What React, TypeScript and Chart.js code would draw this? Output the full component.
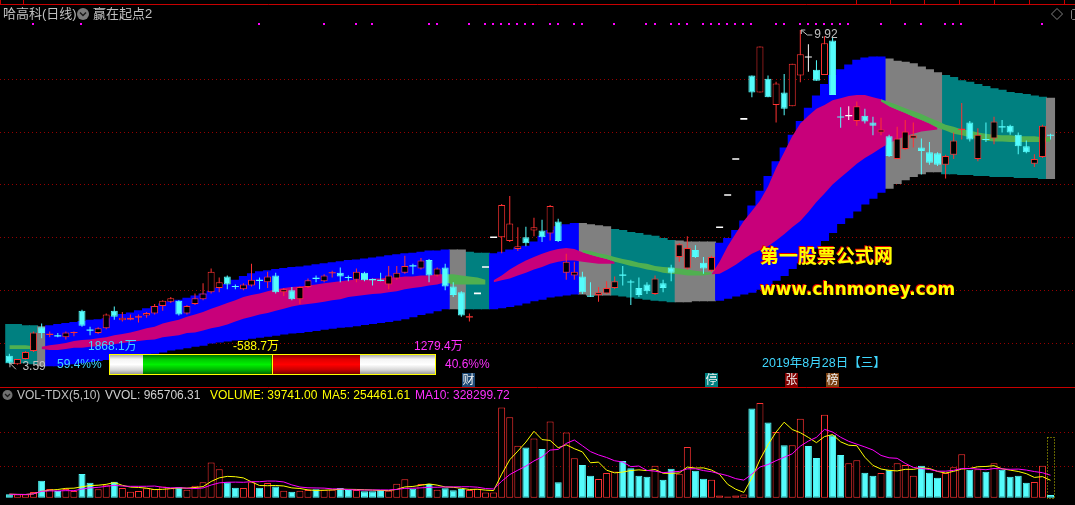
import React, { useEffect, useRef } from "react";
import { Chart, registerables } from "chart.js";

Chart.register(...registerables);

// ---------------- data ----------------
const opens = [
  3.76, 3.60, 3.70, 3.85, 4.30, 4.16, 4.14, 4.11, 4.19, 4.61,
  4.25, 4.19, 4.28, 4.61, 4.43, 4.44, 4.49, 4.52, 4.56, 4.70,
  4.78, 4.80, 4.56, 4.74, 4.83, 4.96, 5.04, 5.26, 5.08, 5.02,
  5.09, 5.19, 5.15, 5.28, 4.96, 5.00, 4.83, 5.06, 5.23, 5.17,
  5.32, 5.33, 5.25, 5.20, 5.33, 5.21, 5.19, 5.11, 5.22, 5.33,
  5.47, 5.41, 5.57, 5.28, 5.43, 5.07, 4.96, 4.49, 4.94, 5.44,
  6.00, 6.00, 5.93, 5.78, 6.00, 6.13, 6.13, 6.07, 6.30, 5.33,
  5.28, 5.26, 4.90, 4.91, 4.94, 5.04, 5.29, 5.16, 5.04, 5.11,
  4.93, 5.13, 5.43, 5.63, 5.41, 5.76, 5.52, 5.37, 6.19, 6.80,
  7.48, 8.24, 9.06, 8.74, 9.00, 8.50, 8.74, 8.48, 9.06, 9.41,
  9.17, 9.07, 9.72, 8.28, 8.30, 8.20, 8.30, 8.17, 7.98, 7.91,
  7.48, 7.67, 7.87, 7.70, 7.61, 7.59, 7.37, 7.56, 8.03, 8.17,
  7.48, 7.86, 7.87, 8.10, 8.11, 7.94, 7.72, 7.39, 7.52, 7.94,
];
const highs = [
  3.80, 3.70, 3.85, 4.22, 4.37, 4.22, 4.19, 4.22, 4.22, 4.63,
  4.31, 4.30, 4.56, 4.69, 4.59, 4.54, 4.54, 4.59, 4.74, 4.81,
  4.87, 4.81, 4.72, 4.94, 5.13, 5.41, 5.24, 5.28, 5.11, 5.13,
  5.50, 5.24, 5.35, 5.33, 5.04, 5.06, 5.07, 5.22, 5.28, 5.30,
  5.37, 5.43, 5.28, 5.41, 5.35, 5.22, 5.33, 5.46, 5.46, 5.65,
  5.50, 5.61, 5.59, 5.43, 5.50, 5.15, 4.98, 4.56, 4.94, 5.44,
  6.00, 6.63, 6.78, 6.19, 6.20, 6.37, 6.33, 6.61, 6.35, 5.69,
  5.54, 5.35, 5.15, 5.06, 5.17, 5.26, 5.46, 5.20, 5.24, 5.15,
  5.28, 5.20, 5.48, 5.89, 6.02, 5.85, 5.63, 5.65, 6.19, 6.80,
  7.48, 8.24, 9.06, 9.61, 9.06, 8.94, 9.09, 9.28, 9.92, 9.65,
  9.35, 9.80, 9.78, 8.46, 8.48, 8.57, 8.43, 8.28, 8.26, 7.94,
  8.09, 8.22, 8.17, 7.87, 7.80, 7.61, 7.56, 7.98, 8.54, 8.20,
  8.06, 8.17, 8.28, 8.22, 8.13, 7.98, 7.83, 7.57, 8.13, 7.96,
];
const lows = [
  3.61, 3.59, 3.69, 3.83, 4.09, 4.11, 4.11, 4.07, 4.13, 4.31,
  4.15, 4.17, 4.26, 4.44, 4.41, 4.43, 4.39, 4.48, 4.54, 4.61,
  4.76, 4.52, 4.54, 4.72, 4.81, 4.94, 4.96, 5.02, 5.02, 5.00,
  5.07, 5.02, 5.04, 4.94, 4.89, 4.81, 4.74, 5.04, 5.15, 5.15,
  5.24, 5.15, 5.17, 5.15, 5.17, 5.09, 5.17, 5.02, 5.20, 5.31,
  5.30, 5.39, 5.15, 5.26, 5.00, 4.87, 4.50, 4.41, 4.94, 5.44,
  6.00, 5.70, 5.91, 5.74, 5.83, 6.02, 5.91, 5.94, 5.91, 5.20,
  5.20, 4.93, 4.87, 4.78, 4.93, 5.02, 5.09, 4.72, 4.87, 4.93,
  4.91, 4.96, 5.17, 5.54, 5.39, 5.61, 5.31, 5.35, 6.19, 6.80,
  7.48, 8.24, 8.65, 8.74, 8.65, 8.17, 8.31, 8.48, 8.93, 9.13,
  8.96, 9.07, 8.69, 8.07, 8.22, 8.11, 8.15, 7.93, 7.93, 7.52,
  7.48, 7.65, 7.70, 7.19, 7.37, 7.35, 7.11, 7.48, 7.85, 7.81,
  7.44, 7.80, 7.76, 7.98, 7.94, 7.57, 7.59, 7.33, 7.50, 7.85,
];
const closes = [
  3.63, 3.70, 3.83, 4.20, 4.19, 4.17, 4.13, 4.20, 4.21, 4.33,
  4.24, 4.28, 4.54, 4.50, 4.48, 4.48, 4.50, 4.57, 4.70, 4.80,
  4.85, 4.54, 4.70, 4.85, 4.94, 5.35, 5.15, 5.11, 5.06, 5.11,
  5.20, 5.18, 5.26, 4.96, 5.02, 4.83, 5.06, 5.19, 5.22, 5.28,
  5.34, 5.26, 5.23, 5.35, 5.19, 5.19, 5.18, 5.28, 5.33, 5.46,
  5.45, 5.56, 5.28, 5.41, 5.07, 4.91, 4.52, 4.50, 4.94, 5.44,
  6.00, 6.61, 6.26, 5.83, 5.89, 6.19, 6.00, 6.59, 5.93, 5.54,
  5.35, 4.96, 4.88, 4.96, 5.04, 5.17, 5.28, 5.15, 4.91, 4.98,
  5.22, 5.04, 5.33, 5.87, 5.80, 5.63, 5.41, 5.63, 6.19, 6.80,
  7.48, 8.24, 8.74, 9.61, 8.65, 8.91, 8.43, 9.28, 9.46, 9.41,
  8.96, 9.67, 8.69, 8.27, 8.30, 8.48, 8.19, 8.11, 8.04, 7.54,
  7.87, 8.00, 7.93, 7.63, 7.41, 7.37, 7.54, 7.83, 8.05, 7.85,
  7.94, 7.84, 8.19, 8.08, 7.98, 7.72, 7.61, 7.48, 8.11, 7.92,
];
// volume, in 10k shares (万)
const volumes = [
  5.2, 4.6, 4.6, 8.4, 24.3, 12.6, 9.8, 12.6, 9.8, 34.1,
  21.5, 12.2, 18.8, 23.0, 14.0, 8.8, 9.8, 13.6, 12.6, 16.3,
  13.6, 15.0, 11.7, 17.3, 22.4, 50.6, 40.8, 22.4, 14.6, 14.0,
  22.4, 14.6, 21.1, 16.3, 10.3, 8.8, 10.3, 11.3, 12.2, 11.7,
  11.7, 14.0, 11.3, 11.3, 9.4, 9.4, 11.3, 10.3, 20.1, 26.7,
  13.1, 19.7, 19.7, 11.7, 13.6, 10.7, 12.6, 11.3, 13.1, 7.5,
  7.5, 129.2, 115.2, 74.5, 72.1, 84.7, 69.8, 109.3, 22.2, 93.3,
  56.6, 47.1, 31.6, 26.8, 35.4, 37.7, 52.8, 42.4, 31.6, 30.2,
  45.7, 25.8, 41.5, 34.4, 72.5, 38.6, 27.2, 25.8, 3.3, 1.9,
  3.3, 4.8, 127.7, 135.7, 107.8, 94.2, 75.3, 75.3, 113.0, 74.0,
  57.0, 118.7, 89.5, 61.2, 49.5, 53.7, 35.8, 31.6, 35.4, 40.0,
  49.5, 47.1, 31.6, 45.7, 35.8, 28.7, 35.4, 43.8, 62.2, 40.0,
  40.9, 37.3, 49.5, 40.0, 30.2, 31.6, 21.6, 22.6, 45.7, 3.97,
];
const projectedVolume = 87.5;

// outer channel (stepped)
const bandTop = [
  4.35, 4.35, 4.33, 4.33, 4.31, 4.33, 4.35, 4.37, 4.39, 4.41,
  4.43, 4.44, 4.46, 4.50, 4.54, 4.57, 4.61, 4.65, 4.69, 4.74,
  4.78, 4.81, 4.85, 4.89, 4.93, 4.98, 5.04, 5.11, 5.19, 5.26,
  5.31, 5.35, 5.37, 5.39, 5.41, 5.43, 5.44, 5.46, 5.48, 5.50,
  5.52, 5.54, 5.56, 5.57, 5.59, 5.61, 5.63, 5.65, 5.67, 5.69,
  5.70, 5.72, 5.74, 5.74, 5.76, 5.76, 5.76, 5.72, 5.70, 5.70,
  5.69, 5.72, 5.76, 5.80, 5.83, 5.91, 6.02, 6.13, 6.20, 6.24,
  6.26, 6.26, 6.24, 6.22, 6.20, 6.15, 6.13, 6.09, 6.07, 6.04,
  6.02, 5.98, 5.94, 5.93, 5.91, 5.91, 5.91, 5.91, 5.89, 5.98,
  6.13, 6.31, 6.59, 6.87, 7.15, 7.43, 7.69, 7.93, 8.19, 8.44,
  8.67, 8.89, 9.06, 9.17, 9.26, 9.35, 9.39, 9.41, 9.41, 9.37,
  9.33, 9.31, 9.28, 9.22, 9.17, 9.11, 9.06, 9.02, 8.96, 8.93,
  8.89, 8.85, 8.81, 8.78, 8.74, 8.72, 8.70, 8.67, 8.65, 8.63,
];
const bandBot = [
  3.63, 3.63, 3.63, 3.61, 3.57, 3.57, 3.57, 3.59, 3.61, 3.63,
  3.65, 3.67, 3.69, 3.70, 3.72, 3.76, 3.78, 3.80, 3.81, 3.83,
  3.87, 3.89, 3.91, 3.94, 3.96, 4.00, 4.02, 4.04, 4.06, 4.07,
  4.09, 4.11, 4.13, 4.15, 4.17, 4.19, 4.20, 4.22, 4.24, 4.26,
  4.28, 4.30, 4.31, 4.33, 4.35, 4.37, 4.39, 4.41, 4.43, 4.46,
  4.50, 4.54, 4.57, 4.61, 4.65, 4.65, 4.65, 4.65, 4.65, 4.65,
  4.65, 4.67, 4.69, 4.72, 4.76, 4.80, 4.83, 4.87, 4.89, 4.91,
  4.93, 4.93, 4.91, 4.91, 4.91, 4.91, 4.89, 4.87, 4.85, 4.83,
  4.81, 4.80, 4.78, 4.78, 4.78, 4.80, 4.80, 4.80, 4.81, 4.85,
  4.89, 4.93, 4.96, 5.02, 5.09, 5.19, 5.28, 5.41, 5.52, 5.63,
  5.80, 5.94, 6.09, 6.26, 6.37, 6.50, 6.63, 6.74, 6.85, 6.93,
  7.02, 7.09, 7.15, 7.20, 7.24, 7.24, 7.20, 7.20, 7.19, 7.19,
  7.17, 7.17, 7.15, 7.15, 7.15, 7.13, 7.13, 7.13, 7.11, 7.11,
];
const grayRanges = [[4, 4], [55, 56], [71, 74], [83, 87], [109, 115], [129, 129]];
const tealRanges = [[0, 3], [57, 59], [75, 82], [116, 128]];

// inner ribbon segments
const magentaTop1 = [3.93, 3.96, 3.98, 4.00, 4.04, 4.06, 4.07, 4.09, 4.11, 4.15, 4.17, 4.20, 4.24, 4.28, 4.31, 4.37, 4.41, 4.44, 4.50, 4.54, 4.59, 4.65, 4.70, 4.76, 4.81, 4.87, 4.91, 4.94, 4.98, 5.02, 5.04, 5.06, 5.07, 5.09, 5.11, 5.13, 5.15, 5.17, 5.19, 5.20, 5.20, 5.22, 5.22, 5.24, 5.24, 5.26, 5.26, 5.28, 5.28, 5.30, 5.30];
const magentaBot1 = [3.89, 3.87, 3.87, 3.89, 3.91, 3.91, 3.93, 3.94, 3.96, 3.98, 4.00, 4.02, 4.04, 4.06, 4.07, 4.11, 4.13, 4.15, 4.19, 4.20, 4.24, 4.28, 4.31, 4.35, 4.41, 4.46, 4.50, 4.54, 4.57, 4.61, 4.65, 4.69, 4.72, 4.74, 4.76, 4.78, 4.81, 4.83, 4.87, 4.89, 4.91, 4.93, 4.94, 4.96, 4.98, 5.02, 5.04, 5.06, 5.09, 5.11, 5.15];
const magentaTop2 = [5.19, 5.28, 5.39, 5.48, 5.56, 5.63, 5.69, 5.74, 5.78, 5.80, 5.78, 5.72, 5.67, 5.63, 5.59, 5.54];
const magentaBot2 = [5.15, 5.19, 5.22, 5.28, 5.33, 5.39, 5.44, 5.50, 5.54, 5.56, 5.56, 5.54, 5.52, 5.50, 5.50, 5.50];
const magentaTop3 = [5.30, 5.54, 5.83, 6.07, 6.31, 6.50, 6.69, 6.96, 7.31, 7.61, 7.91, 8.15, 8.30, 8.43, 8.50, 8.59, 8.63, 8.67, 8.69, 8.69, 8.65, 8.61, 8.48, 8.41, 8.35, 8.28, 8.22, 8.15, 8.07];
const magentaBot3 = [5.30, 5.31, 5.39, 5.48, 5.59, 5.69, 5.76, 5.83, 5.94, 6.06, 6.19, 6.31, 6.48, 6.67, 6.83, 7.00, 7.13, 7.26, 7.39, 7.50, 7.59, 7.69, 7.78, 7.85, 7.91, 7.96, 8.00, 8.02, 8.04];
const magentaStarts = [4, 60, 87];

const greenTop1 = [3.96, 3.96, 3.96, 3.94];
const greenBot1 = [3.89, 3.89, 3.89, 3.89];
const greenTop2 = [5.30, 5.30, 5.28, 5.26, 5.24, 5.20];
const greenBot2 = [5.15, 5.11, 5.11, 5.11, 5.11, 5.11];
const greenTop3 = [5.76, 5.74, 5.70, 5.67, 5.63, 5.59, 5.56, 5.52, 5.50, 5.46, 5.44, 5.43, 5.41, 5.39, 5.37, 5.35, 5.33];
const greenBot3 = [5.72, 5.67, 5.63, 5.59, 5.54, 5.50, 5.46, 5.43, 5.39, 5.37, 5.33, 5.31, 5.30, 5.28, 5.28, 5.28, 5.30];
const greenTop4 = [8.61, 8.56, 8.50, 8.44, 8.39, 8.33, 8.26, 8.20, 8.13, 8.09, 8.04, 8.02, 7.98, 7.96, 7.94, 7.93, 7.93, 7.91, 7.91, 7.91, 7.89, 7.89];
const greenBot4 = [8.57, 8.48, 8.41, 8.35, 8.28, 8.22, 8.15, 8.07, 8.02, 7.96, 7.93, 7.89, 7.85, 7.83, 7.81, 7.81, 7.80, 7.80, 7.80, 7.80, 7.80, 7.81];
const greenStarts = [0, 54, 71, 108];

const signalIdx = [3, 9, 31, 39, 43, 45, 52, 53, 57, 59, 60, 61, 62, 63, 64, 65, 67, 68, 70, 71, 75, 79, 80, 82, 83, 84, 86, 87, 88, 89, 90, 91, 92, 95, 96, 98, 99, 100, 101, 102, 103, 104, 108, 111, 113, 116, 117, 118, 128];
const eventIdx = [57, 87, 97, 102];
const eventText = ["财", "停", "张", "榜"];

const priceGrid = [4, 5, 6, 7, 8, 9];
const volGrid = [46.2, 93.8];

const flowBuy = 1868.1;
const flowSell = 1279.4;
const flowNet = -588.7;
const buyPct = 59.4;
const sellPct = 40.6;

const stockTitle = "哈高科(日线)";
const indicatorName = "赢在起点2";
const dateLabel = "2019年8月28日【三】";
const volHeader = ["VOL-TDX(5,10)", "VVOL: 965706.31", "VOLUME: 39741.00", "MA5: 254461.61", "MA10: 328299.72"];

// ---------------- style ----------------
const W = 1075;
const H = 505;
const RED = "#FF3232";
const CYAN = "#54FCFC";
const WHITE = "#FFFFFF";

const FONT = (px: number, weight = "") =>
  `${weight} ${px}px "Liberation Sans", "Noto Sans CJK SC", sans-serif`;

function movingAvg(arr: number[], n: number) {
  return arr.map((_, i) => {
    const s = Math.max(0, i - n + 1);
    let sum = 0;
    for (let k = s; k <= i; k++) sum += arr[k];
    return sum / (i - s + 1);
  });
}

const tdxPlugin = {
  id: "tdx",
  beforeDraw(chart: any) {
    const ctx = chart.ctx;
    ctx.save();
    ctx.fillStyle = "#000";
    ctx.fillRect(0, 0, chart.width, chart.height);
    ctx.restore();
  },
  beforeDatasetsDraw(chart: any) {
    const { ctx, scales } = chart;
    ctx.save();
    ctx.lineWidth = 1;
    ctx.strokeStyle = "#960000";
    ctx.setLineDash([1, 3]);
    priceGrid.forEach((p) => {
      const y = Math.round(scales.y.getPixelForValue(p)) + 0.5;
      ctx.beginPath();
      ctx.moveTo(0, y);
      ctx.lineTo(W, y);
      ctx.stroke();
    });
    volGrid.forEach((v) => {
      const y = Math.round(scales.yv.getPixelForValue(v)) + 0.5;
      ctx.beginPath();
      ctx.moveTo(0, y);
      ctx.lineTo(W, y);
      ctx.stroke();
    });
    ctx.setLineDash([]);
    ctx.strokeStyle = "#C80000";
    ctx.beginPath();
    ctx.moveTo(0, 4.5);
    ctx.lineTo(W, 4.5);
    [0.5, 23.5, 856.5, 890.5, 924.5, 959.5, 994.5, 1029.5, 1064.5].forEach((x) => {
      ctx.moveTo(x, 0);
      ctx.lineTo(x, 4);
    });
    ctx.moveTo(0, 387.5);
    ctx.lineTo(W, 387.5);
    ctx.stroke();
    ctx.restore();
  },
  afterDatasetsDraw(chart: any) {
    const { ctx, scales } = chart;
    const xs = scales.x;
    const ys = scales.y;
    const yv = scales.yv;
    ctx.save();
    ctx.textBaseline = "middle";
    ctx.textAlign = "left";

    // title row
    ctx.font = FONT(13);
    ctx.fillStyle = "#C0C0C0";
    ctx.fillText(stockTitle, 3, 14);
    ctx.fillStyle = "#7A7A7A";
    ctx.beginPath();
    ctx.arc(83, 14, 6, 0, Math.PI * 2);
    ctx.fill();
    ctx.strokeStyle = "#1A1A1A";
    ctx.lineWidth = 1.5;
    ctx.beginPath();
    ctx.moveTo(80, 12.5);
    ctx.lineTo(83, 15.5);
    ctx.lineTo(86, 12.5);
    ctx.stroke();
    ctx.fillStyle = "#C0C0C0";
    ctx.font = FONT(13);
    ctx.fillText(indicatorName, 93, 14);

    // top-right icons
    ctx.strokeStyle = "#808080";
    ctx.lineWidth = 1;
    ctx.beginPath();
    ctx.moveTo(1057, 8.5);
    ctx.lineTo(1062.5, 14);
    ctx.lineTo(1057, 19.5);
    ctx.lineTo(1051.5, 14);
    ctx.closePath();
    ctx.stroke();
    ctx.beginPath();
    ctx.moveTo(1078, 9.5);
    ctx.lineTo(1072.5, 9.5);
    ctx.lineTo(1071.5, 10.5);
    ctx.lineTo(1071.5, 18.5);
    ctx.lineTo(1072.5, 19.5);
    ctx.lineTo(1078, 19.5);
    ctx.stroke();

    // signal dots
    ctx.fillStyle = "#FF00FF";
    signalIdx.forEach((i) => {
      const x = Math.floor(xs.getPixelForValue(i) - 1);
      ctx.fillRect(x, 23, 2, 2);
    });

    // low / high labels
    ctx.strokeStyle = "#C0C0C0";
    ctx.fillStyle = "#C0C0C0";
    ctx.lineWidth = 1;
    let lowI = 0;
    let highI = 0;
    lows.forEach((v, i) => { if (v < lows[lowI]) lowI = i; });
    highs.forEach((v, i) => { if (v > highs[highI]) highI = i; });
    {
      const ax = xs.getPixelForValue(lowI);
      const ay = ys.getPixelForValue(lows[lowI]);
      const tx = ax - 7.5, ty = ay - 1.5;
      ctx.beginPath();
      ctx.moveTo(tx, ty);
      ctx.lineTo(ax - 1.5, ay + 4.5);
      ctx.moveTo(tx, ty);
      ctx.lineTo(tx, ty + 4);
      ctx.moveTo(tx, ty);
      ctx.lineTo(tx + 4, ty);
      ctx.stroke();
      ctx.font = FONT(12);
      ctx.fillText(lows[lowI].toFixed(2), ax + 5, ay + 1.5);
    }
    {
      const ax = xs.getPixelForValue(highI);
      const ay = ys.getPixelForValue(highs[highI]);
      const tx = ax + 1, ty = ay;
      ctx.beginPath();
      ctx.moveTo(tx, ty);
      ctx.lineTo(ax + 7, ay + 5);
      ctx.lineTo(ax + 12, ay + 5);
      ctx.moveTo(tx, ty);
      ctx.lineTo(tx, ty + 4);
      ctx.moveTo(tx, ty);
      ctx.lineTo(tx + 4, ty);
      ctx.stroke();
      ctx.font = FONT(12);
      ctx.fillText(highs[highI].toFixed(2), ax + 14, ay + 5);
    }

    // capital-flow bar
    const bx0 = 109, bx1 = 436, by0 = 354, by1 = 375;
    const leftW = 34, rightW = 76;
    const mid = bx1 - bx0 - leftW - rightW;
    const gW = (mid * flowBuy) / (flowBuy + flowSell);
    const gx0 = bx0 + leftW;
    const rx0 = gx0 + gW;
    const rx1 = bx1 - rightW;
    const grad = (stops: string[]) => {
      const g = ctx.createLinearGradient(0, by0, 0, by1);
      stops.forEach((c, k) => g.addColorStop(k / (stops.length - 1), c));
      return g;
    };
    const whiteG = grad(["#9A9A9A", "#F4F4F4", "#FFFFFF", "#D8D8D8", "#8C8C8C"]);
    ctx.fillStyle = whiteG;
    ctx.fillRect(bx0, by0, leftW, by1 - by0);
    ctx.fillRect(rx1, by0, bx1 - rx1, by1 - by0);
    ctx.fillStyle = grad(["#005A00", "#00C800", "#00F000", "#00B400", "#005000"]);
    ctx.fillRect(gx0, by0, gW, by1 - by0);
    ctx.fillStyle = grad(["#780000", "#E00000", "#FF0000", "#C80000", "#640000"]);
    ctx.fillRect(rx0, by0, rx1 - rx0, by1 - by0);
    ctx.strokeStyle = "#FFFF00";
    ctx.lineWidth = 1;
    ctx.strokeRect(bx0 + 0.5, by0 + 0.5, bx1 - bx0 - 1, by1 - by0 - 1);
    ctx.beginPath();
    ctx.moveTo(Math.round(rx0) + 0.5, by0);
    ctx.lineTo(Math.round(rx0) + 0.5, by1);
    ctx.stroke();

    ctx.font = FONT(12);
    ctx.textAlign = "left";
    ctx.fillStyle = "#40D8FF";
    ctx.fillText(`${flowBuy.toFixed(1)}万`, 88, 347);
    ctx.fillText(`${buyPct.toFixed(1)}%%`, 57, 365);
    ctx.fillStyle = "#FFFF00";
    ctx.fillText(`${flowNet.toFixed(1)}万`, 233, 347);
    ctx.fillStyle = "#FF30FF";
    ctx.fillText(`${flowSell.toFixed(1)}万`, 414, 347);
    ctx.fillText(`${sellPct.toFixed(1)}%%`, 445, 365);

    // date
    ctx.fillStyle = "#40D8FF";
    ctx.font = FONT(12.5);
    ctx.fillText(dateLabel, 762, 364);

    // event labels
    const evBg = ["#1E4A76", "#008080", "#800000", "#7A4010"];
    ctx.font = FONT(12);
    ctx.textAlign = "center";
    eventIdx.forEach((i, k) => {
      const x = Math.round(xs.getPixelForValue(i));
      ctx.fillStyle = evBg[k];
      ctx.fillRect(x - 7, 373, 13, 14);
      ctx.fillStyle = "#F0F0F0";
      ctx.fillText(eventText[k], x - 0.5, 380.5);
    });
    ctx.textAlign = "left";

    // volume header
    ctx.fillStyle = "#707070";
    ctx.beginPath();
    ctx.arc(7.5, 395, 5, 0, Math.PI * 2);
    ctx.fill();
    ctx.strokeStyle = "#1A1A1A";
    ctx.lineWidth = 1.3;
    ctx.beginPath();
    ctx.moveTo(5, 394);
    ctx.lineTo(7.5, 396.5);
    ctx.lineTo(10, 394);
    ctx.stroke();
    ctx.font = FONT(12);
    const hx = [17, 105, 210, 322, 415];
    const hc = ["#C0C0C0", "#D0D0D0", "#FFFF00", "#FFFF00", "#FF30FF"];
    volHeader.forEach((t, k) => {
      ctx.fillStyle = hc[k];
      ctx.fillText(t, hx[k], 395.5);
    });

    // projected volume box
    {
      const last = volumes.length - 1;
      const x = Math.round(xs.getPixelForValue(last));
      const yt = Math.round(yv.getPixelForValue(projectedVolume)) + 0.5;
      const yb = Math.round(yv.getPixelForValue(0)) + 0.5;
      ctx.strokeStyle = "#C8C800";
      ctx.lineWidth = 1;
      ctx.setLineDash([1, 2]);
      ctx.strokeRect(x - 3.5, yt, 7, yb - yt);
      ctx.setLineDash([]);
    }

    // watermark
    ctx.textBaseline = "middle";
    ctx.font = 'bold 19px "Noto Sans CJK SC", sans-serif';
    ctx.fillStyle = "#E00000";
    ctx.fillText("第一股票公式网", 759, 255);
    ctx.fillStyle = "#FFFF00";
    ctx.fillText("第一股票公式网", 760, 256);
    ctx.textBaseline = "alphabetic";
    ctx.font = 'bold 17px "DejaVu Sans", sans-serif';
    ctx.fillStyle = "#E00000";
    ctx.fillText("www.chnmoney.com", 759, 294);
    ctx.fillStyle = "#FFFF00";
    ctx.fillText("www.chnmoney.com", 760, 295);

    ctx.restore();
  },
};

export default function App() {
  const ref = useRef<HTMLCanvasElement | null>(null);

  useEffect(() => {
    document.body.style.margin = "0";
    document.body.style.background = "#000";
    const canvas = ref.current;
    if (!canvas) return;
    const n = closes.length;
    const idx = closes.map((_, i) => i);

    const regime: string[] = new Array(n).fill("blue");
    grayRanges.forEach(([a, b]) => { for (let i = a; i <= b; i++) regime[i] = "gray"; });
    tealRanges.forEach(([a, b]) => { for (let i = a; i <= b; i++) regime[i] = "teal"; });

    const bandSet = (kind: string, color: string) => ({
      type: "bar",
      yAxisID: "y",
      order: 100,
      grouped: false,
      data: idx.filter((i) => regime[i] === kind).map((i) => ({ x: i, y: [bandBot[i], bandTop[i]] })),
      backgroundColor: color,
      borderWidth: 0,
      barPercentage: 1,
      categoryPercentage: 1,
      inflateAmount: 0.5,
    });

    const areaPair = (start: number, top: number[], bot: number[], color: string, order: number) => [
      {
        type: "line",
        yAxisID: "y",
        order,
        data: top.map((v, k) => ({ x: start + k, y: v })),
        borderWidth: 0,
        borderColor: "rgba(0,0,0,0)",
        pointRadius: 0,
        fill: false,
      },
      {
        type: "line",
        yAxisID: "y",
        order,
        data: bot.map((v, k) => ({ x: start + k, y: v })),
        borderWidth: 0,
        borderColor: "rgba(0,0,0,0)",
        pointRadius: 0,
        fill: "-1",
        backgroundColor: color,
      },
    ];

    const colorOf = (i: number) => (closes[i] > opens[i] ? RED : closes[i] < opens[i] ? CYAN : WHITE);
    const isBody = (i: number) => Math.abs(closes[i] - opens[i]) >= 0.025;
    const volUp = (i: number) =>
      closes[i] > opens[i] || (closes[i] === opens[i] && (i === 0 || closes[i] >= closes[i - 1]));

    const wickIdx = idx.filter((i) => highs[i] > lows[i]);
    const bodyIdx = idx.filter((i) => isBody(i));
    const markIdx = idx.filter((i) => !isBody(i));

    const magSegs = [[magentaTop1, magentaBot1], [magentaTop2, magentaBot2], [magentaTop3, magentaBot3]];
    const greenSegs = [[greenTop1, greenBot1], [greenTop2, greenBot2], [greenTop3, greenBot3], [greenTop4, greenBot4]];

    const datasets: any[] = [
      bandSet("blue", "#0000FF"),
      bandSet("gray", "#808080"),
      bandSet("teal", "#008080"),
    ];
    magSegs.forEach(([t, b], k) => datasets.push(...areaPair(magentaStarts[k], t, b, "#C8007A", 90)));
    greenSegs.forEach(([t, b], k) => datasets.push(...areaPair(greenStarts[k], t, b, "#50B050", 89)));

    datasets.push({
      type: "bar",
      yAxisID: "yv",
      order: 70,
      grouped: false,
      data: idx.map((i) => ({ x: i, y: volumes[i] })),
      backgroundColor: idx.map((i) => (volUp(i) ? "#000000" : CYAN)),
      borderColor: idx.map((i) => (volUp(i) ? RED : CYAN)),
      borderWidth: 1,
      borderSkipped: false,
      barThickness: 7,
      inflateAmount: 0,
    });
    datasets.push({
      type: "line",
      yAxisID: "yv",
      order: 60,
      data: movingAvg(volumes, 5).map((v, i) => ({ x: i, y: v })),
      borderColor: "#FFFF00",
      borderWidth: 1,
      pointRadius: 0,
      fill: false,
    });
    datasets.push({
      type: "line",
      yAxisID: "yv",
      order: 59,
      data: movingAvg(volumes, 10).map((v, i) => ({ x: i, y: v })),
      borderColor: "#FF00FF",
      borderWidth: 1,
      pointRadius: 0,
      fill: false,
    });
    datasets.push({
      type: "bar",
      yAxisID: "y",
      order: 50,
      grouped: false,
      data: wickIdx.map((i) => ({ x: i, y: [lows[i], highs[i]] })),
      backgroundColor: wickIdx.map(colorOf),
      borderWidth: 0,
      barThickness: 1,
      inflateAmount: 0,
    });
    datasets.push({
      type: "bar",
      yAxisID: "y",
      order: 40,
      grouped: false,
      data: bodyIdx.map((i) => ({ x: i, y: [opens[i], closes[i]] })),
      backgroundColor: bodyIdx.map((i) => (closes[i] > opens[i] ? "#000000" : CYAN)),
      borderColor: bodyIdx.map(colorOf),
      borderWidth: 1,
      borderSkipped: false,
      barThickness: 7,
      inflateAmount: 0,
    });
    datasets.push({
      type: "line",
      yAxisID: "y",
      order: 30,
      showLine: false,
      data: markIdx.map((i) => ({ x: i, y: (opens[i] + closes[i]) / 2 })),
      pointStyle: "line",
      pointRadius: 3.5,
      pointBorderWidth: markIdx.map((i) => (highs[i] === lows[i] ? 1.6 : 1.2)),
      pointBorderColor: markIdx.map(colorOf),
      pointBackgroundColor: markIdx.map(colorOf),
    });

    const chart = new Chart(canvas, {
      type: "bar",
      data: { datasets } as any,
      options: {
        responsive: false,
        animation: false,
        devicePixelRatio: 1,
        events: [],
        layout: { padding: 0 },
        plugins: { legend: { display: false }, tooltip: { enabled: false } },
        scales: {
          x: { type: "linear", min: -0.515, max: 131.39, offset: false, display: false },
          y: { type: "linear", min: 1.037, max: 10.389, display: false },
          yv: { type: "linear", min: -2.8, max: 704.2, display: false },
        },
      } as any,
      plugins: [tdxPlugin as any],
    });
    return () => chart.destroy();
  }, []);

  return (
    <div style={{ position: "fixed", left: 0, top: 0, width: W, height: H, background: "#000" }}>
      <canvas ref={ref} width={W} height={H} style={{ display: "block", width: W, height: H }} />
    </div>
  );
}
